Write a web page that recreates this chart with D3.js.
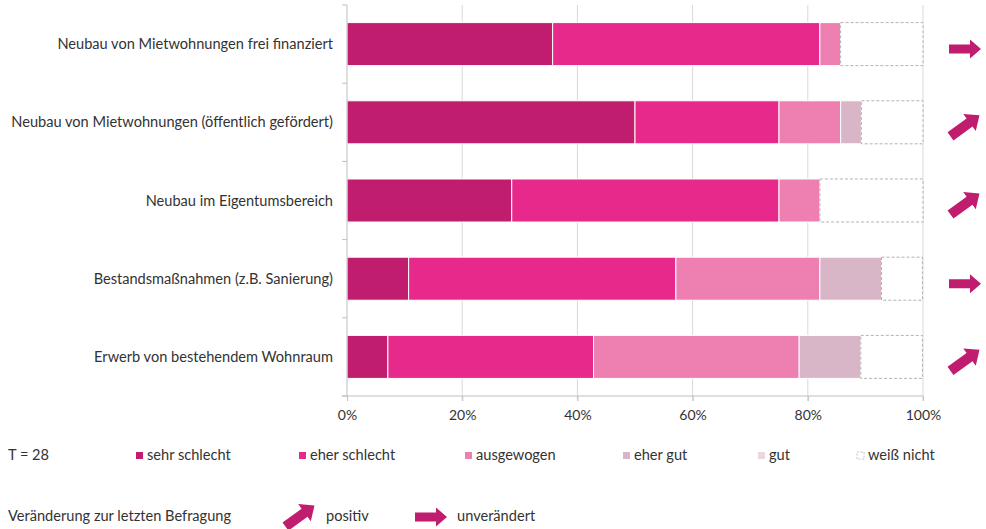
<!DOCTYPE html>
<html>
<head>
<meta charset="utf-8">
<script src="https://cdn.jsdelivr.net/npm/d3@7"></script>
<style>
  body { margin: 0; background: #fff; }
  svg text { font-family: Lato, "Open Sans", sans-serif; fill: #333; }
</style>
</head>
<body>
<div id="chart"></div>
<script>
// Bewertung des Wohnungsmarktes, T = 28 (Anteile in %)
const categories = [
  'Neubau von Mietwohnungen frei finanziert',
  'Neubau von Mietwohnungen (öffentlich gefördert)',
  'Neubau im Eigentumsbereich',
  'Bestandsmaßnahmen (z.B. Sanierung)',
  'Erwerb von bestehendem Wohnraum'
];
const sehrSchlecht = [35.7, 50.0, 28.6, 10.7, 7.1];
const eherSchlecht = [46.4, 25.0, 46.4, 46.4, 35.7];
const ausgewogen   = [3.6, 10.7, 7.1, 25.0, 35.7];
const eherGut      = [0, 3.6, 0, 10.7, 10.7];
const gut          = [0, 0, 0, 0, 0];
const weissNicht   = [14.3, 10.7, 17.9, 7.1, 10.7];

// Veränderung zur letzten Befragung
const trends = ['unverändert', 'positiv', 'positiv', 'unverändert', 'positiv'];

const seriesNames = ['sehr schlecht', 'eher schlecht', 'ausgewogen', 'eher gut', 'gut', 'weiß nicht'];
const seriesValues = [sehrSchlecht, eherSchlecht, ausgewogen, eherGut, gut, weissNicht];
const xTicks = [0, 20, 40, 60, 80, 100];

const colors = ['#c01d6f', '#e6298a', '#ed80b1', '#d9b5c8', '#eed6e1', '#ffffff'];

const width = 986, height = 529;
const plot = { left: 347, right: 923, top: 5, bottom: 396 };
const fontSize = '14.6px';

const svg = d3.select('#chart').append('svg')
    .attr('width', width)
    .attr('height', height);

// table for the stack
const table = categories.map((c, i) => {
  const row = { category: c };
  seriesNames.forEach((s, j) => { row[s] = seriesValues[j][i]; });
  return row;
});
const stacked = d3.stack().keys(seriesNames)(table);

const x = d3.scaleLinear().domain([0, 100]).range([plot.left, plot.right]);
const y = d3.scaleBand().domain(categories)
    .range([plot.top, plot.bottom])
    .paddingInner(0.45)
    .paddingOuter(0.225);

// gridlines
svg.append('g')
  .selectAll('line')
  .data(xTicks.slice(1))
  .enter().append('line')
    .attr('x1', d => x(d)).attr('x2', d => x(d))
    .attr('y1', plot.top).attr('y2', plot.bottom + 5)
    .attr('stroke', '#d9d9d9')
    .attr('stroke-width', 1);

// bars
const layer = svg.append('g').selectAll('g')
  .data(stacked)
  .enter().append('g')
    .attr('fill', (d, i) => colors[i]);

layer.selectAll('rect')
  .data(d => d.map(v => ({ v: v, key: d.key })))
  .enter().filter(d => d.v[1] - d.v[0] > 0)
  .append('rect')
    .attr('x', d => x(d.v[0]))
    .attr('y', d => y(d.v.data.category))
    .attr('width', d => x(d.v[1]) - x(d.v[0]))
    .attr('height', y.bandwidth())
    .attr('stroke', d => d.key === 'weiß nicht' ? '#b3b3b3' : '#fff')
    .attr('stroke-dasharray', d => d.key === 'weiß nicht' ? '3,2' : null)
    .attr('stroke-width', 1);

// y axis line with ticks between categories
const yAxis = svg.append('g');
yAxis.append('line')
    .attr('x1', plot.left).attr('x2', plot.left)
    .attr('y1', plot.top).attr('y2', plot.bottom)
    .attr('stroke', '#bfbfbf');
const bounds = categories.map(c => y(c) - y.step() * y.paddingInner() / 2);
bounds.push(plot.bottom);
yAxis.selectAll('.ytick')
  .data(bounds)
  .enter().append('line')
    .attr('x1', plot.left - 5).attr('x2', plot.left)
    .attr('y1', d => d).attr('y2', d => d)
    .attr('stroke', '#bfbfbf');

// x axis
const xAxis = svg.append('g')
    .attr('transform', 'translate(0,' + plot.bottom + ')')
    .call(d3.axisBottom(x).tickValues(xTicks).tickSize(5).tickFormat(d => d + '%'));
xAxis.select('.domain').attr('stroke', '#bfbfbf').attr('d', 'M' + (plot.left - 5) + ',0H' + plot.right);
xAxis.selectAll('.tick line').attr('stroke', '#bfbfbf');
xAxis.selectAll('.tick text')
    .attr('dy', '1.15em')
    .attr('font-size', '14px')
    .attr('fill', '#333')
    .style('font-family', 'Lato, sans-serif');

// category labels
svg.append('g').selectAll('text')
  .data(categories)
  .enter().append('text')
    .attr('x', 333)
    .attr('y', d => y(d) + y.bandwidth() / 2)
    .attr('dy', '0.35em')
    .attr('text-anchor', 'end')
    .attr('font-size', fontSize)
    .text(d => d);

// arrow shapes
const arrowPath = 'M-16,-4.5H5V-9.5L16,0L5,9.5V4.5H-16Z';
function arrowTransform(type, cx, cy) {
  return 'translate(' + cx + ',' + cy + ')' + (type === 'positiv' ? ' rotate(-36) scale(1.12)' : '');
}

svg.append('g').selectAll('path')
  .data(trends)
  .enter().append('path')
    .attr('d', arrowPath)
    .attr('fill', '#c01d6f')
    .attr('transform', (d, i) => arrowTransform(d, 965, y(categories[i]) + y.bandwidth() / 2 + (d === 'positiv' ? 3.5 : 5)));

// legend
const legendX = [136, 299, 465, 623, 758, 857];
svg.append('text')
    .attr('x', 8).attr('y', 460)
    .attr('font-size', fontSize)
    .text('T = 28');

const legend = svg.append('g').selectAll('g')
  .data(seriesNames)
  .enter().append('g')
    .attr('transform', (d, i) => 'translate(' + legendX[i] + ',452)');
legend.append('rect')
    .attr('width', 7).attr('height', 7)
    .attr('fill', (d, i) => colors[i])
    .attr('stroke', d => d === 'weiß nicht' ? '#b3b3b3' : 'none')
    .attr('stroke-dasharray', '2,1.5')
    .attr('stroke-width', 0.8);
legend.append('text')
    .attr('x', 11).attr('y', 8)
    .attr('font-size', fontSize)
    .text(d => d);

// change legend
svg.append('text')
    .attr('x', 8).attr('y', 521)
    .attr('font-size', fontSize)
    .text('Veränderung zur letzten Befragung');

const changeLegend = [
  { type: 'positiv', cx: 300, cy: 516, tx: 326 },
  { type: 'unverändert', cx: 431, cy: 517, tx: 457 }
];
svg.append('g').selectAll('path')
  .data(changeLegend)
  .enter().append('path')
    .attr('d', arrowPath)
    .attr('fill', '#c01d6f')
    .attr('transform', d => arrowTransform(d.type, d.cx, d.cy));
svg.append('g').selectAll('text')
  .data(changeLegend)
  .enter().append('text')
    .attr('x', d => d.tx).attr('y', 521)
    .attr('font-size', fontSize)
    .text(d => d.type);
</script>
</body>
</html>
